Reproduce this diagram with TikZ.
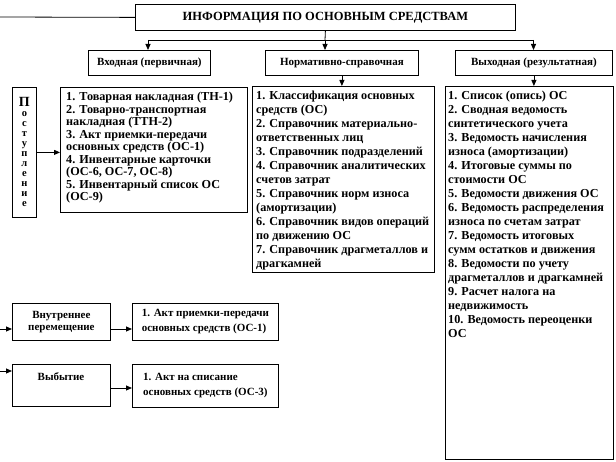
\documentclass[tikz,border=0pt]{standalone}
\usepackage{fontspec}
\setmainfont{Liberation Serif}
\usetikzlibrary{arrows.meta}
\begin{document}
\begin{tikzpicture}[x=1pt,y=-1pt,
  box/.style={draw, line width=0.8pt, inner sep=0pt, anchor=north west},
  hd/.style={font=\bfseries\fontsize{11}{12}\selectfont},
  lst/.style={font=\bfseries\fontsize{12.2}{14}\selectfont, align=left, anchor=north west, inner sep=0pt},
  lstl/.style={font=\bfseries\fontsize{12.2}{12.5}\selectfont, align=left, anchor=north west, inner sep=0pt},
  sm/.style={font=\bfseries\fontsize{11}{15}\selectfont, align=left},
  arr/.style={-{Triangle[length=6pt,width=5pt]}, line width=0.8pt},
  ln/.style={line width=0.8pt}]
\useasboundingbox (0,0) rectangle (616,462);

% title
\node[box, minimum width=380pt, minimum height=26pt, font=\bfseries\fontsize{12.5}{13}\selectfont] (title) at (135,4) {ИНФОРМАЦИЯ ПО ОСНОВНЫМ СРЕДСТВАМ};
\coordinate (t0) at (0,17);
\draw[ln] (t0) -- (title.west);

% row 2
\node[box, hd, minimum width=122pt, minimum height=25pt] (in) at (88,50) {Входная (первичная)};
\node[box, hd, minimum width=153pt, minimum height=25pt] (norm) at (265,50) {Нормативно-справочная};
\node[box, hd, minimum width=157pt, minimum height=25pt] (out) at (455,50) {Выходная (результатная)};

\coordinate (J) at (325,40);
\coordinate (Ja) at (148,40);
\coordinate (Jc) at (533.5,40);
\draw[ln] (title.south) -- (J);
\draw[ln] (Ja) -- (Jc);
\draw[arr] (Ja) -- (Ja |- in.north);
\draw[arr] (J) -- (J |- norm.north);
\draw[arr] (Jc) -- (Jc |- out.north);

% list boxes
\node[box, minimum width=187pt, minimum height=125pt] (lb) at (60,87) {};
\node[lstl] (lt) at (66,92) {1. Товарная накладная (ТН-1)\\2. Товарно-транспортная\\накладная (ТТН-2)\\3. Акт приемки-передачи\\основных средств (ОС-1)\\4. Инвентарные карточки\\(ОС-6, ОС-7, ОС-8)\\5. Инвентарный список ОС\\(ОС-9)};

\node[box, minimum width=182pt, minimum height=186pt] (mb) at (252,86) {};
\node[lst] (mt) at (256,91) {1. Классификация основных\\средств (ОС)\\2. Справочник материально-\\ответственных лиц\\3. Справочник подразделений\\4. Справочник аналитических\\счетов затрат\\5. Справочник норм износа\\(амортизации)\\6. Справочник видов операций\\по движению ОС\\7. Справочник драгметаллов и\\драгкамней};

\node[box, minimum width=168pt, minimum height=373pt] (rb) at (445,86) {};
\node[lst] (rt) at (448,91) {1. Список (опись) ОС\\2. Сводная ведомость\\синтетического учета\\3. Ведомость начисления\\износа (амортизации)\\4. Итоговые суммы по\\стоимости ОС\\5. Ведомости движения ОС\\6. Ведомость распределения\\износа по счетам затрат\\7. Ведомость итоговых\\сумм остатков и движения\\8. Ведомости по учету\\драгметаллов и драгкамней\\9. Расчет налога на\\недвижимость\\10. Ведомость переоценки\\ОС};

\draw[arr] (norm.south) -- (norm.south |- mb.north);
\draw[arr] (out.south) -- (out.south |- rb.north);

% Поступление
\node[box, minimum width=24pt, minimum height=130pt] (post) at (12,87) {};
\node[font=\bfseries\fontsize{10.5}{10}\selectfont, align=center, inner sep=0pt] (pt) at (post.center) {{\fontsize{14}{14}\selectfont П}\\о\\с\\т\\у\\п\\л\\е\\н\\и\\е};
\draw[arr] (post.east) -- (post.east -| lb.west);

% bottom rows
\node[box, hd, align=center, minimum width=98pt, minimum height=37pt] (vn) at (12,303) {Внутреннее\\перемещение};
\node[box, sm, minimum width=146pt, minimum height=37pt] (akt1) at (132,303) {1. Акт приемки-передачи\\основных средств (ОС-1)};
\coordinate (e1) at (0,329);
\draw[arr] (e1) -- (e1 -| vn.west);
\draw[arr] (vn.east |- e1) -- (akt1.west |- e1);

\node[box, minimum width=98pt, minimum height=42pt] (vb) at (12,364) {};
\node[hd] (vbt) at (61,377) {Выбытие};
\node[box, sm, minimum width=146pt, minimum height=43pt] (akt2) at (132,364) {1. Акт на списание\\основных средств (ОС-3)};
\coordinate (e2) at (0,371);
\coordinate (e3) at (0,388);
\draw[arr] (e2) -- (e2 -| vb.west);
\draw[arr] (vb.east |- e3) -- (akt2.west |- e3);
\end{tikzpicture}
\end{document}
